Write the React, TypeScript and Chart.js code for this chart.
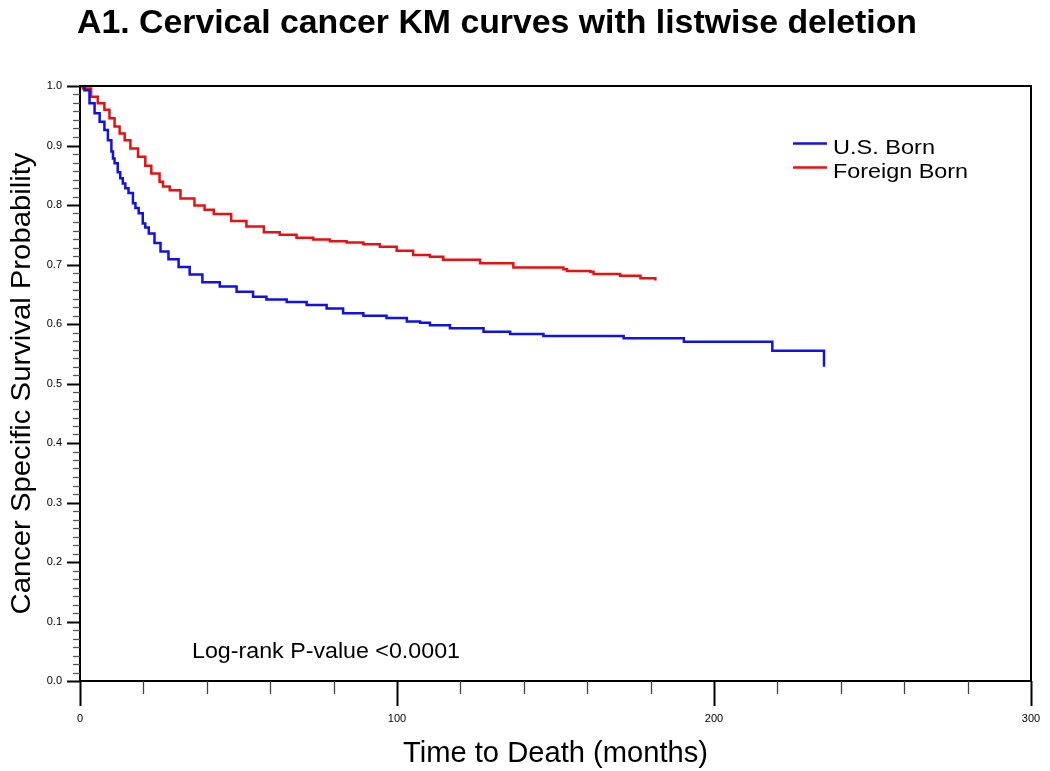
import React, { useEffect, useRef } from "react";
import { Chart, registerables } from "chart.js";

Chart.register(...registerables);

// ---- Data ----
const usTime = [0, 1.4, 3.0, 4.6, 6.2, 7.7, 8.8, 9.9, 10.4, 10.9, 11.9, 12.7, 13.5, 14.3, 15.3, 16.7, 17.5, 18.5, 19.8, 20.6, 21.7, 23.5, 25.4, 27.9, 31.1, 34.6, 38.6, 44.1, 49.4, 54.6, 58.8, 65.2, 71.5, 77.8, 83.0, 89.4, 96.7, 103.1, 107.3, 110.4, 116.7, 127.3, 135.7, 146.2, 171.5, 190.5, 218.4, 234.7];
const usSurv = [1.0, 0.993, 0.971, 0.954, 0.94, 0.926, 0.909, 0.89, 0.878, 0.87, 0.855, 0.845, 0.836, 0.828, 0.82, 0.803, 0.795, 0.786, 0.769, 0.762, 0.752, 0.736, 0.722, 0.709, 0.696, 0.683, 0.67, 0.663, 0.654, 0.646, 0.641, 0.637, 0.632, 0.626, 0.618, 0.614, 0.61, 0.604, 0.602, 0.598, 0.593, 0.587, 0.583, 0.58, 0.576, 0.57, 0.555, 0.528];

const fbTime = [0, 0.9, 3.5, 5.6, 7.7, 9.3, 10.9, 12.5, 14.1, 15.9, 18.3, 20.6, 22.5, 25.1, 26.2, 28.3, 31.7, 36.1, 39.3, 42.2, 47.7, 52.5, 58.0, 63.0, 68.3, 73.6, 78.8, 84.1, 89.4, 94.6, 99.9, 105.1, 110.4, 114.6, 126.2, 136.7, 152.5, 153.6, 161, 162, 170.4, 176.8, 181.5];
const fbSurv = [1.0, 0.996, 0.982, 0.971, 0.96, 0.946, 0.932, 0.92, 0.909, 0.895, 0.881, 0.866, 0.853, 0.839, 0.831, 0.825, 0.811, 0.799, 0.792, 0.785, 0.773, 0.764, 0.754, 0.75, 0.745, 0.742, 0.739, 0.737, 0.734, 0.73, 0.723, 0.716, 0.713, 0.708, 0.702, 0.695, 0.692, 0.689, 0.688, 0.684, 0.681, 0.677, 0.673];

const seriesNames = ["U.S. Born", "Foreign Born"];
const seriesColors = ["#1010e8", "#e81010"];
const xMajorTicks = [0, 100, 200, 300];
const xMinorStep = 20;
const yMajorTicks = [0, 0.1, 0.2, 0.3, 0.4, 0.5, 0.6, 0.7, 0.8, 0.9, 1.0];
const yMinorPerMajor = 7;

const titleText = "A1. Cervical cancer KM curves with listwise deletion";
const xTitle = "Time to Death (months)";
const yTitle = "Cancer Specific Survival Probability";
const noteText = "Log-rank P-value <0.0001";

const FONT = "'Liberation Sans', Arial, Helvetica, sans-serif";

function fitText(
  ctx: CanvasRenderingContext2D,
  text: string,
  x: number,
  y: number,
  font: string,
  targetWidth: number,
  align: "left" | "center"
) {
  ctx.save();
  ctx.font = font;
  const w = ctx.measureText(text).width;
  let s = targetWidth / w;
  if (s < 0.8) s = 0.8;
  if (s > 1.25) s = 1.25;
  ctx.translate(x, y);
  ctx.scale(s, 1);
  ctx.textAlign = align;
  ctx.textBaseline = "alphabetic";
  ctx.fillText(text, 0, 0);
  ctx.restore();
}

const decorPlugin = {
  id: "kmDecor",
  afterDatasetsDraw(chart: any) {
    const ctx: CanvasRenderingContext2D = chart.ctx;
    const xs = chart.scales.x;
    const ys = chart.scales.y;
    const { left, right, top, bottom } = chart.chartArea;
    ctx.save();
    ctx.fillStyle = "#000";
    ctx.strokeStyle = "#000";

    // frame
    ctx.lineWidth = 2;
    ctx.strokeRect(left, top, right - left, bottom - top);

    // x ticks
    for (let v = 0; v <= 300; v += xMinorStep) {
      const px = Math.round(xs.getPixelForValue(v)) + 0.5;
      const major = xMajorTicks.includes(v);
      ctx.beginPath();
      ctx.lineWidth = major ? 2 : 1.3;
      ctx.strokeStyle = major ? "#000" : "#444";
      ctx.moveTo(px, bottom);
      ctx.lineTo(px, bottom + (major ? 25 : 13));
      ctx.stroke();
    }
    ctx.font = `11px ${FONT}`;
    ctx.textAlign = "center";
    ctx.textBaseline = "middle";
    ctx.fillStyle = "#000";
    xMajorTicks.forEach((v) => {
      ctx.fillText(String(v), xs.getPixelForValue(v), 719);
    });

    // y ticks
    for (let i = 0; i < yMajorTicks.length; i++) {
      const v = yMajorTicks[i];
      const py = Math.round(ys.getPixelForValue(v)) + 0.5;
      ctx.beginPath();
      ctx.lineWidth = 2;
      ctx.strokeStyle = "#000";
      ctx.moveTo(left, py);
      ctx.lineTo(left - 13, py);
      ctx.stroke();
      if (i < yMajorTicks.length - 1) {
        const step = (yMajorTicks[i + 1] - v) / yMinorPerMajor;
        for (let k = 1; k < yMinorPerMajor; k++) {
          const my = Math.round(ys.getPixelForValue(v + k * step)) + 0.5;
          ctx.beginPath();
          ctx.lineWidth = 1.3;
          ctx.strokeStyle = "#555";
          ctx.moveTo(left, my);
          ctx.lineTo(left - 7, my);
          ctx.stroke();
        }
      }
    }
    ctx.font = `11px ${FONT}`;
    ctx.textAlign = "right";
    ctx.textBaseline = "middle";
    yMajorTicks.forEach((v) => {
      ctx.fillText(v.toFixed(1), 62, ys.getPixelForValue(v));
    });

    // titles
    fitText(ctx, titleText, 77, 33, `bold 33px ${FONT}`, 840, "left");
    fitText(ctx, xTitle, (left + right) / 2, 762, `29px ${FONT}`, 305, "center");
    ctx.save();
    ctx.translate(30, (top + bottom) / 2);
    ctx.rotate(-Math.PI / 2);
    fitText(ctx, yTitle, 0, 0, `27px ${FONT}`, 462, "center");
    ctx.restore();

    // note
    fitText(ctx, noteText, 192, 658, `22px ${FONT}`, 268, "left");

    // legend
    const legendRows = [146, 170];
    seriesNames.forEach((name, i) => {
      ctx.beginPath();
      ctx.lineWidth = 2.5;
      ctx.strokeStyle = seriesColors[i];
      ctx.moveTo(793, legendRows[i] - 2.5);
      ctx.lineTo(827, legendRows[i] - 2.5);
      ctx.stroke();
      ctx.fillStyle = "#000";
      fitText(ctx, name, 833, legendRows[i] + 7.5, `21px ${FONT}`, i === 0 ? 102 : 135, "left");
    });

    ctx.restore();
  },
};

export default function App() {
  const canvasRef = useRef<HTMLCanvasElement | null>(null);

  useEffect(() => {
    const canvas = canvasRef.current;
    if (!canvas) return;
    const chart = new Chart(canvas, {
      type: "line",
      data: {
        datasets: [
          {
            label: seriesNames[0],
            data: usTime.map((t, i) => ({ x: t, y: usSurv[i] })),
            borderColor: seriesColors[0],
            borderWidth: 2.5,
            pointRadius: 0,
            stepped: "before",
            fill: false,
          },
          {
            label: seriesNames[1],
            data: fbTime.map((t, i) => ({ x: t, y: fbSurv[i] })),
            borderColor: seriesColors[1],
            borderWidth: 2.5,
            pointRadius: 0,
            stepped: "before",
            fill: false,
          },
        ],
      },
      options: {
        animation: false,
        responsive: false,
        devicePixelRatio: 1,
        layout: { padding: { left: 80, right: 19, top: 86, bottom: 90 } },
        plugins: {
          legend: { display: false },
          title: { display: false },
          tooltip: { enabled: false },
        },
        scales: {
          x: { type: "linear", min: 0, max: 300, display: false },
          y: { type: "linear", min: 0, max: 1, display: false },
        },
      },
      plugins: [decorPlugin],
    });
    return () => chart.destroy();
  }, []);

  return (
    <div style={{ position: "absolute", left: 0, top: 0, width: 1050, height: 771, background: "#fff" }}>
      <canvas ref={canvasRef} width={1050} height={771} />
    </div>
  );
}
